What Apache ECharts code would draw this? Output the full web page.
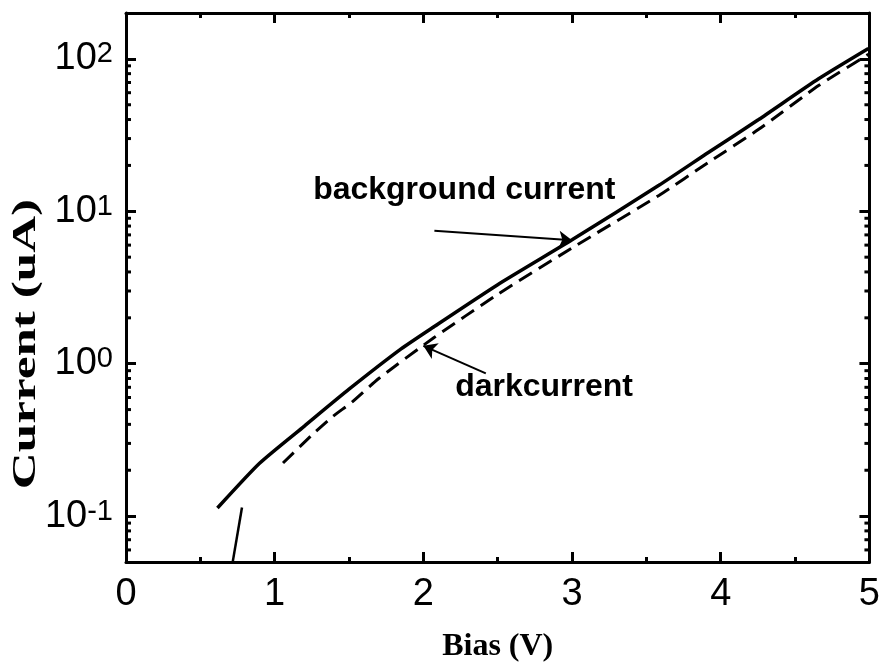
<!DOCTYPE html>
<html>
<head>
<meta charset="utf-8">
<script src="https://cdn.jsdelivr.net/npm/echarts@6/dist/echarts.min.js"></script>
<style>
html, body { margin: 0; padding: 0; background: #fff; }
#chart { width: 883px; height: 668px; }
</style>
</head>
<body>
<div id="chart"></div>
<script>
// background current (solid), [bias V, current uA]
const backgroundCurrent = [
    [0.615, 0.113], [0.9, 0.223], [1.2, 0.39], [1.5, 0.68], [1.85, 1.25], [2.06, 1.72],
    [2.5, 3.3], [3.0, 6.5], [3.584, 14.8], [3.919, 24.4], [4.255, 40], [4.658, 74], [4.993, 117]
];
// dark current (dashed)
const darkCurrent = [
    [1.056, 0.223], [1.25, 0.34], [1.39, 0.45], [1.52, 0.56], [1.7, 0.8], [2.07, 1.48],
    [2.5, 2.85], [3.0, 5.75], [3.584, 12.7], [3.919, 21], [4.255, 34.5], [4.658, 66.8], [4.993, 107]
];
// short steep segment near the origin
const steepSegment = [[0.716, 0.049], [0.78, 0.114]];

// minor ticks of the log axis
const minorY = [
    0.06, 0.07, 0.08, 0.09,
    0.2, 0.3, 0.4, 0.5, 0.6, 0.7, 0.8, 0.9,
    2, 3, 4, 5, 6, 7, 8, 9,
    20, 30, 40, 50, 60, 70, 80, 90
];

// annotations
const labelBackground = [2.275, 13.7];
const labelDark = [2.812, 0.699];
const arrowBackground = [[2.074, 7.45], [3.0, 6.45]];
const arrowDark = [[2.42, 0.865], [2.0, 1.31]];

const black = "#000";
const sans = "Liberation Sans";
const serif = "Liberation Serif";

function xAxisBase(pos) {
    return {
        type: "value",
        position: pos,
        min: 0,
        max: 5,
        interval: 1,
        axisLine: { show: true, onZero: false, lineStyle: { color: black, width: 3 } },
        axisTick: { show: true, inside: true, length: 10, lineStyle: { color: black, width: 3 } },
        minorTick: { show: true, splitNumber: 2, length: 5, lineStyle: { color: black, width: 3 } },
        splitLine: { show: false },
        minorSplitLine: { show: false },
    };
}

function yAxisBase(pos) {
    return {
        type: "log",
        logBase: 10,
        position: pos,
        min: 0.05,
        max: 200,
        axisLine: { show: true, onZero: false, lineStyle: { color: black, width: 3 } },
        axisTick: { show: true, inside: true, length: 10, lineStyle: { color: black, width: 3 } },
        minorTick: { show: false },
        splitLine: { show: false },
    };
}

const xBottom = xAxisBase("bottom");
xBottom.axisLabel = { fontSize: 38, color: black, fontFamily: sans, margin: 14 };
xBottom.name = "Bias (V)";
xBottom.nameLocation = "middle";
xBottom.nameGap = 69;
xBottom.nameTextStyle = { fontSize: 32, fontWeight: "bold", fontFamily: serif, color: black };

const xTop = xAxisBase("top");
xTop.axisLabel = { show: false };

const yLeft = yAxisBase("left");
yLeft.axisLabel = {
    margin: 13,
    showMinLabel: false,
    showMaxLabel: false,
    formatter: function (v) {
        const e = Math.round(Math.log10(v));
        return "{b|10}{s|" + e + "}";
    },
    rich: {
        b: { fontSize: 38, fontFamily: sans, color: black, lineHeight: 38 },
        s: { fontSize: 29, fontFamily: sans, color: black, verticalAlign: "top", lineHeight: 22 },
    },
};

const yRight = yAxisBase("right");
yRight.axisLabel = { show: false };

const option = {
    animation: false,
    backgroundColor: "#fff",
    grid: { left: 126, right: 12, top: 13, bottom: 101 },
    xAxis: [xBottom, xTop],
    yAxis: [yLeft, yRight],
    graphic: [
        {
            type: "text",
            x: 26,
            y: 344,
            rotation: Math.PI / 2,
            scaleX: 1.55,
            style: {
                text: "Current (uA)",
                fontSize: 33,
                fontWeight: "bold",
                fontFamily: serif,
                fill: black,
                textAlign: "center",
                textVerticalAlign: "middle",
            },
        },
    ],
    series: [
        {
            name: "background current",
            type: "line",
            data: backgroundCurrent,
            smooth: 0.2,
            showSymbol: false,
            lineStyle: { color: black, width: 3.5 },
            markPoint: {
                silent: true,
                symbol: "circle",
                symbolSize: 0,
                label: {
                    show: true,
                    position: "inside",
                    color: black,
                    fontSize: 32,
                    fontWeight: "bold",
                    fontFamily: sans,
                    formatter: function (p) { return p.name; },
                },
                data: [
                    { name: "background current", coord: labelBackground },
                    { name: "darkcurrent", coord: labelDark },
                ],
            },
            markLine: {
                silent: true,
                symbol: ["none", "arrow"],
                symbolSize: 13,
                label: { show: false },
                lineStyle: { color: black, width: 2, type: "solid" },
                data: [
                    [{ coord: arrowBackground[0] }, { coord: arrowBackground[1] }],
                    [{ coord: arrowDark[0] }, { coord: arrowDark[1] }],
                ],
            },
        },
        {
            name: "darkcurrent",
            type: "line",
            data: darkCurrent,
            smooth: 0.2,
            showSymbol: false,
            lineStyle: { color: black, width: 3, type: [15, 8] },
        },
        {
            name: "steep",
            type: "line",
            data: steepSegment,
            showSymbol: false,
            lineStyle: { color: black, width: 2.5 },
        },
        {
            name: "minor ticks",
            type: "custom",
            silent: true,
            xAxisIndex: 0,
            yAxisIndex: 0,
            data: minorY.map(function (v) { return [0, v]; }),
            renderItem: function (params, api) {
                const l = api.coord([0, api.value(1)]);
                const r = api.coord([5, api.value(1)]);
                return {
                    type: "group",
                    children: [
                        { type: "line", shape: { x1: l[0], y1: l[1], x2: l[0] + 5, y2: l[1] }, style: { stroke: black, lineWidth: 3 } },
                        { type: "line", shape: { x1: r[0], y1: r[1], x2: r[0] - 5, y2: r[1] }, style: { stroke: black, lineWidth: 3 } },
                    ],
                };
            },
        },
    ],
};

const myChart = echarts.init(document.getElementById("chart"));
myChart.setOption(option);
</script>
</body>
</html>
